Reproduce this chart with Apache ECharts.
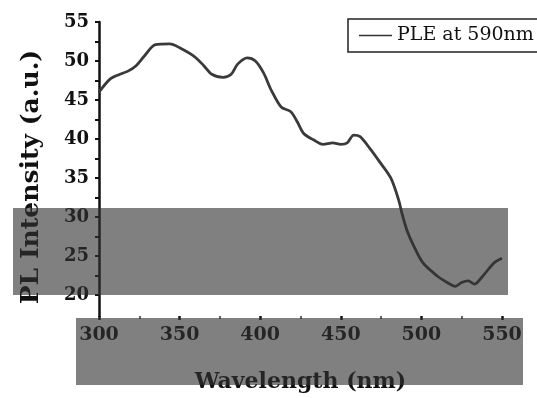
<!DOCTYPE html>
<html>
<head>
<meta charset="utf-8">
<script src="https://cdn.jsdelivr.net/npm/echarts@6/dist/echarts.min.js"></script>
<style>
  html, body { margin: 0; padding: 0; background: #fff; }
  #chart { width: 537px; height: 398px; }
</style>
</head>
<body>
<div id="chart"></div>
<script>
// PLE spectrum monitored at 590nm
const wavelength = [300, 307, 313, 318, 323, 328, 335, 344, 350, 359, 365, 370, 377, 382, 386, 392, 397, 402, 407, 413, 419, 423, 427, 433, 439, 445, 450, 454, 458, 462, 468, 474, 481, 486, 488, 491, 495, 501, 510, 516, 521, 525, 529, 533, 538, 545, 550];
const intensity = [46.0, 47.7, 48.3, 48.7, 49.4, 50.6, 52.1, 52.2, 51.7, 50.6, 49.4, 48.3, 47.9, 48.3, 49.6, 50.4, 50.0, 48.5, 46.2, 44.1, 43.5, 42.2, 40.7, 39.9, 39.3, 39.5, 39.3, 39.5, 40.5, 40.3, 38.8, 37.1, 35.0, 32.1, 30.4, 28.3, 26.4, 24.1, 22.4, 21.6, 21.1, 21.6, 21.8, 21.4, 22.4, 24.1, 24.7];
const yLabels = [20, 25, 30, 35, 40, 45, 50, 55];
const yTicks = [20, 22.5, 25, 27.5, 30, 32.5, 35, 37.5, 40, 42.5, 45, 47.5, 50, 52.5, 55];

const serif = "DejaVu Serif";
const chart = echarts.init(document.getElementById("chart"));

var option = {
  animation: false,
  grid: { left: 99, right: 35, top: 22, bottom: 78 },
  legend: {
    left: 348,
    top: 19,
    padding: [7, 10, 7, 11],
    borderColor: "#222",
    borderWidth: 1.5,
    icon: "rect",
    itemWidth: 33,
    itemHeight: 1.5,
    textStyle: { fontFamily: serif, fontSize: 19, color: "#111" },
    data: ["PLE at 590nm"]
  },
  xAxis: {
    type: "value",
    min: 300,
    max: 550,
    interval: 50,
    name: "Wavelength (nm)",
    nameLocation: "middle",
    nameGap: 55,
    nameTextStyle: { fontFamily: serif, fontWeight: "bold", fontSize: 22, color: "#111" },
    axisLine: { show: false },
    axisTick: { show: true, length: 4, lineStyle: { color: "#111", width: 2.5 } },
    minorTick: { show: true, splitNumber: 2, length: 3, lineStyle: { color: "#333", width: 1.5 } },
    splitLine: { show: false },
    axisLabel: { fontFamily: serif, fontWeight: "bold", fontSize: 19, color: "#111", margin: 10 }
  },
  yAxis: {
    type: "value",
    min: 17.3,
    max: 55,
    name: "PL Intensity (a.u.)",
    nameLocation: "middle",
    nameGap: 55,
    nameTextStyle: { fontFamily: serif, fontWeight: "bold", fontSize: 25, color: "#111", padding: [0, 16, 0, 0] },
    axisLine: { show: true, lineStyle: { color: "#111", width: 2.5 } },
    axisTick: { show: true, length: 4, customValues: yTicks, lineStyle: { color: "#111", width: 2 } },
    splitLine: { show: false },
    axisLabel: { fontFamily: serif, fontWeight: "bold", fontSize: 18, color: "#111", margin: 10, customValues: yLabels }
  },
  series: [{
    name: "PLE at 590nm",
    type: "line",
    symbol: "none",
    smooth: 0.3,
    lineStyle: { color: "#3a3a3a", width: 2.8 },
    itemStyle: { color: "#333" },
    data: wavelength.map((w, i) => [w, intensity[i]])
  }],
  graphic: [
    { type: "rect", z: 100, shape: { x: 13, y: 208, width: 495, height: 87 }, style: { fill: "rgba(50,50,50,0.62)" } },
    { type: "rect", z: 100, shape: { x: 76, y: 318, width: 447, height: 67 }, style: { fill: "rgba(50,50,50,0.62)" } }
  ]
};

chart.setOption(option);
</script>
</body>
</html>
